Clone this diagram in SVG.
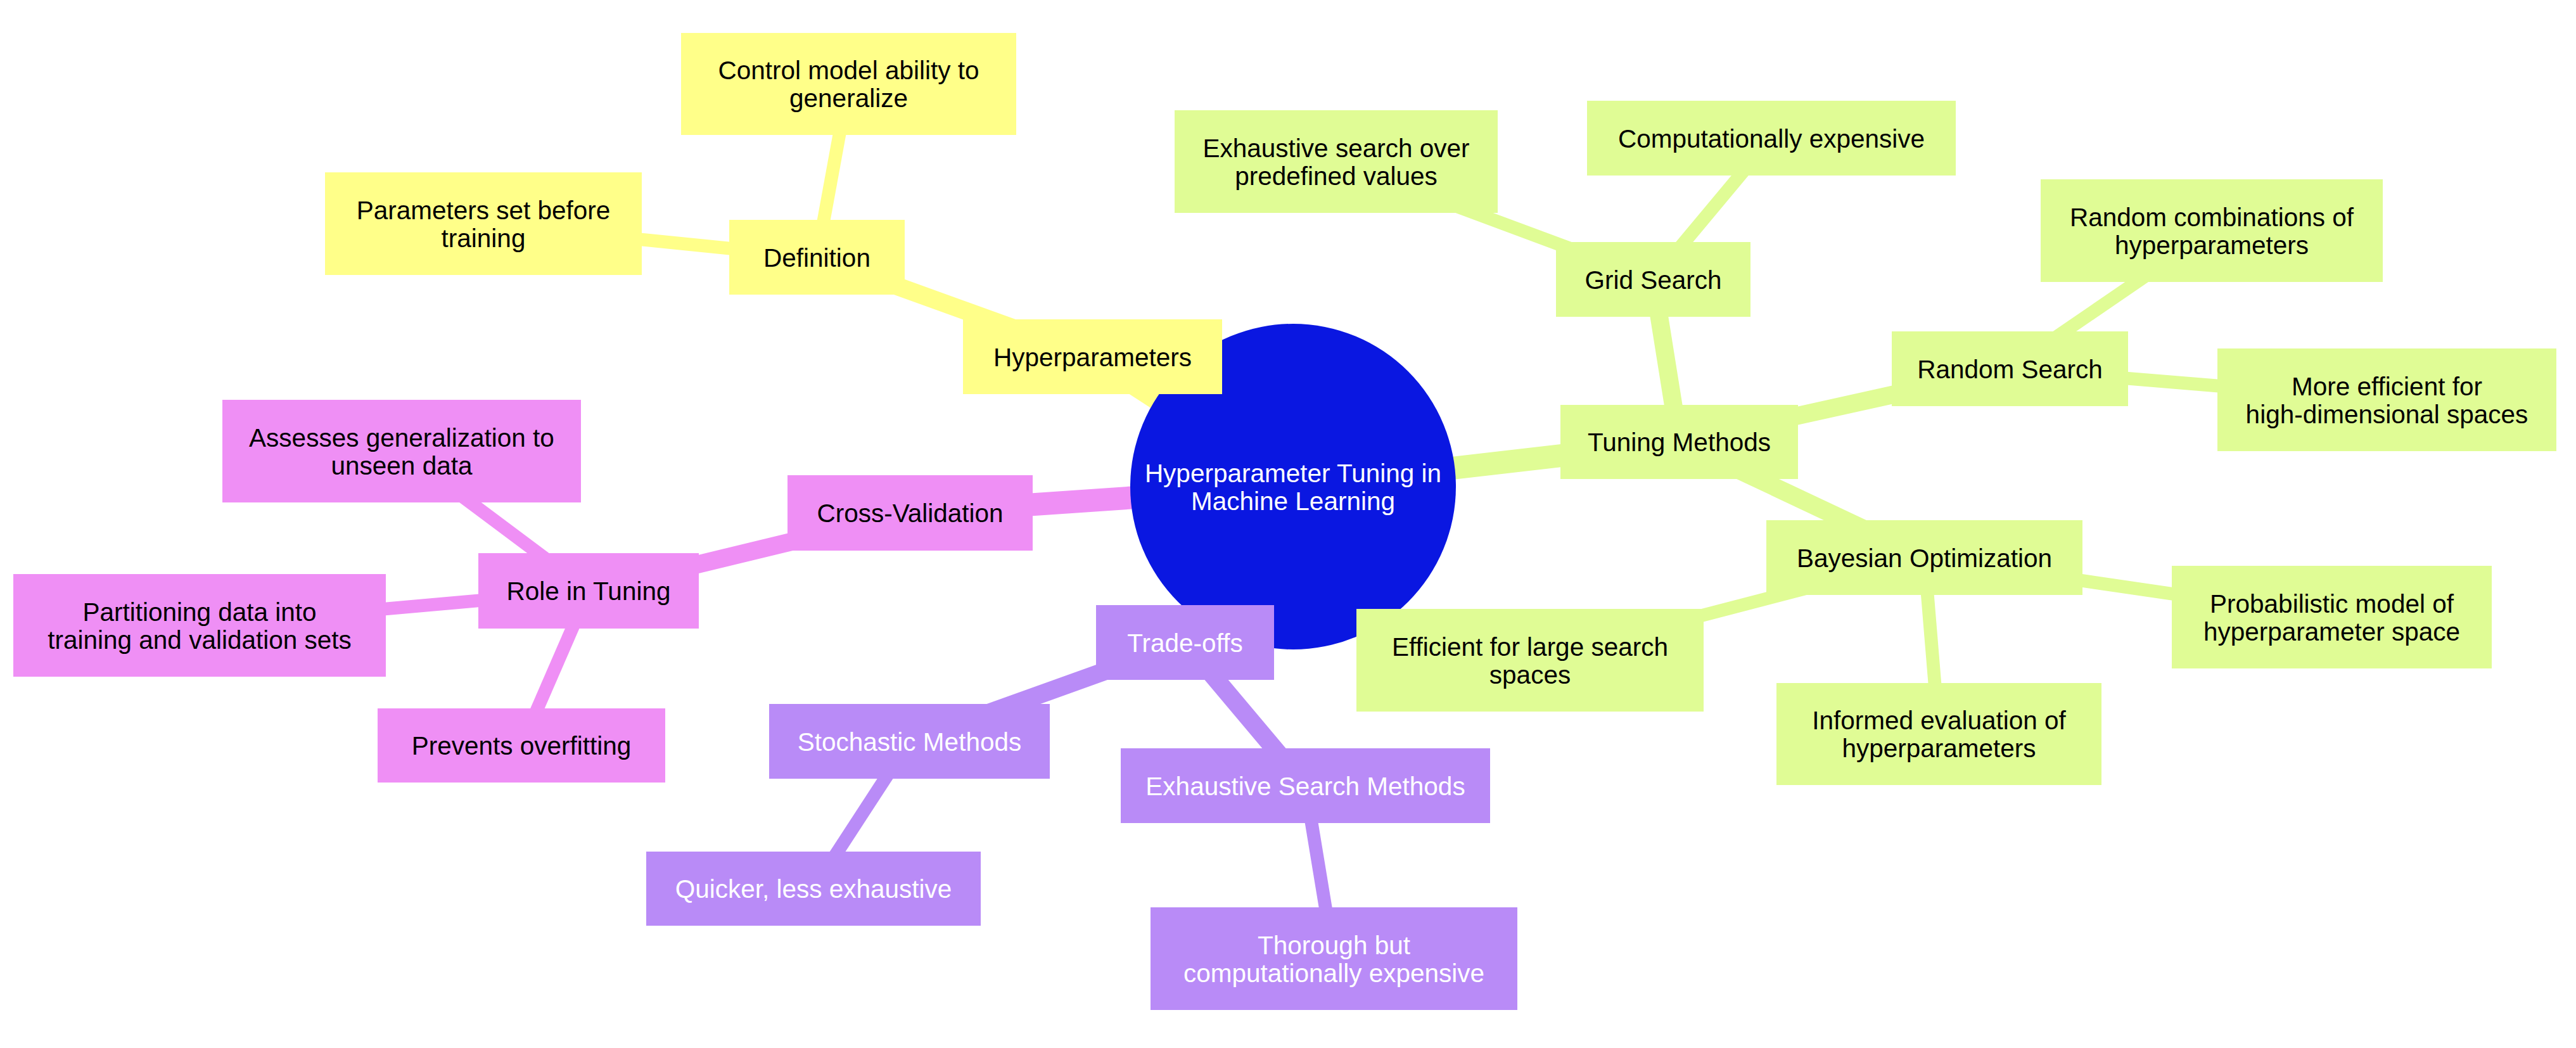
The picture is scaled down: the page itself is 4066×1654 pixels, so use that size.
<svg xmlns="http://www.w3.org/2000/svg" width="4066" height="1654" viewBox="0 0 4066 1654">
<style>
text{font-family:"Liberation Sans",Arial,sans-serif;font-size:40.5px;text-anchor:middle}
.e{fill:none;stroke-linecap:butt}
.d1{stroke-width:36}
.d2{stroke-width:28.5}
.d3{stroke-width:20.7}
.sy{stroke:#ffff89}
.sg{stroke:#e0fc95}
.sp{stroke:#ef8ff5}
.su{stroke:#b98bf7}
.fy{fill:#ffff89}
.fg{fill:#e0fc95}
.fp{fill:#ef8ff5}
.fu{fill:#b98bf7}
.tb{fill:#000000}
.tw{fill:#ffffff}
</style>
<rect x="0" y="0" width="4066" height="1654" fill="#ffffff"/>
<g id="connectors">
<line class="e d1 sy" x1="2041" y1="768" x2="1724.5" y2="563"/>
<line class="e d1 sg" x1="2041" y1="768" x2="2650.5" y2="697.5"/>
<line class="e d1 sp" x1="2041" y1="768" x2="1436.5" y2="809.5"/>
<line class="e d1 su" x1="2041" y1="768" x2="1870.5" y2="1014"/>
<line class="e d2 sy" x1="1724.5" y1="563" x2="1289.5" y2="406"/>
<line class="e d3 sy" x1="1289.5" y1="406" x2="763" y2="353"/>
<line class="e d3 sy" x1="1289.5" y1="406" x2="1339.5" y2="132.5"/>
<line class="e d2 sg" x1="2650.5" y1="697.5" x2="2609.5" y2="441"/>
<line class="e d2 sg" x1="2650.5" y1="697.5" x2="3172.5" y2="582"/>
<line class="e d2 sg" x1="2650.5" y1="697.5" x2="3037.5" y2="880"/>
<line class="e d3 sg" x1="2609.5" y1="441" x2="2109" y2="255"/>
<line class="e d3 sg" x1="2609.5" y1="441" x2="2796" y2="217.5"/>
<line class="e d3 sg" x1="3172.5" y1="582" x2="3491" y2="364"/>
<line class="e d3 sg" x1="3172.5" y1="582" x2="3767.5" y2="631"/>
<line class="e d3 sg" x1="3037.5" y1="880" x2="2415" y2="1042"/>
<line class="e d3 sg" x1="3037.5" y1="880" x2="3680.5" y2="974"/>
<line class="e d3 sg" x1="3037.5" y1="880" x2="3060.5" y2="1158.5"/>
<line class="e d2 sp" x1="1436.5" y1="809.5" x2="929" y2="932.5"/>
<line class="e d3 sp" x1="929" y1="932.5" x2="634" y2="712"/>
<line class="e d3 sp" x1="929" y1="932.5" x2="315" y2="987"/>
<line class="e d3 sp" x1="929" y1="932.5" x2="823" y2="1176.5"/>
<line class="e d2 su" x1="1870.5" y1="1014" x2="1435.5" y2="1170"/>
<line class="e d2 su" x1="1870.5" y1="1014" x2="2060.5" y2="1240"/>
<line class="e d3 su" x1="1435.5" y1="1170" x2="1284" y2="1402.5"/>
<line class="e d3 su" x1="2060.5" y1="1240" x2="2105.5" y2="1513"/>
</g>
<g id="root">
<circle cx="2041" cy="768" r="257" fill="#0a17e1"/>
<text class="tw" x="2041" y="760.5">Hyperparameter Tuning in</text>
<text class="tw" x="2041" y="804.5">Machine Learning</text>
</g>
<g id="hyperparameters">
<rect class="fy" x="1520" y="504" width="409" height="118"/>
<text class="tb" x="1724.5" y="577.5">Hyperparameters</text>
</g>
<g id="definition">
<rect class="fy" x="1151" y="347" width="277" height="118"/>
<text class="tb" x="1289.5" y="420.5">Definition</text>
</g>
<g id="params-set">
<rect class="fy" x="513" y="272" width="500" height="162"/>
<text class="tb" x="763" y="345.5">Parameters set before</text>
<text class="tb" x="763" y="389.5">training</text>
</g>
<g id="control-model">
<rect class="fy" x="1075" y="52" width="529" height="161"/>
<text class="tb" x="1339.5" y="125">Control model ability to</text>
<text class="tb" x="1339.5" y="169">generalize</text>
</g>
<g id="tuning-methods">
<rect class="fg" x="2463" y="639" width="375" height="117"/>
<text class="tb" x="2650.5" y="712">Tuning Methods</text>
</g>
<g id="grid-search">
<rect class="fg" x="2456" y="382" width="307" height="118"/>
<text class="tb" x="2609.5" y="455.5">Grid Search</text>
</g>
<g id="exhaustive-predefined">
<rect class="fg" x="1854" y="174" width="510" height="162"/>
<text class="tb" x="2109" y="247.5">Exhaustive search over</text>
<text class="tb" x="2109" y="291.5">predefined values</text>
</g>
<g id="computationally-expensive">
<rect class="fg" x="2505" y="159" width="582" height="118"/>
<text class="tb" x="2796" y="232.5">Computationally expensive</text>
</g>
<g id="random-search">
<rect class="fg" x="2986" y="523" width="373" height="118"/>
<text class="tb" x="3172.5" y="596.5">Random Search</text>
</g>
<g id="random-combinations">
<rect class="fg" x="3221" y="283" width="540" height="162"/>
<text class="tb" x="3491" y="356.5">Random combinations of</text>
<text class="tb" x="3491" y="400.5">hyperparameters</text>
</g>
<g id="more-efficient">
<rect class="fg" x="3500" y="550" width="535" height="162"/>
<text class="tb" x="3767.5" y="623.5">More efficient for</text>
<text class="tb" x="3767.5" y="667.5">high-dimensional spaces</text>
</g>
<g id="bayesian">
<rect class="fg" x="2788" y="821" width="499" height="118"/>
<text class="tb" x="3037.5" y="894.5">Bayesian Optimization</text>
</g>
<g id="efficient-large">
<rect class="fg" x="2141" y="961" width="548" height="162"/>
<text class="tb" x="2415" y="1034.5">Efficient for large search</text>
<text class="tb" x="2415" y="1078.5">spaces</text>
</g>
<g id="probabilistic">
<rect class="fg" x="3428" y="893" width="505" height="162"/>
<text class="tb" x="3680.5" y="966.5">Probabilistic model of</text>
<text class="tb" x="3680.5" y="1010.5">hyperparameter space</text>
</g>
<g id="informed">
<rect class="fg" x="2804" y="1078" width="513" height="161"/>
<text class="tb" x="3060.5" y="1151">Informed evaluation of</text>
<text class="tb" x="3060.5" y="1195">hyperparameters</text>
</g>
<g id="cross-validation">
<rect class="fp" x="1243" y="750" width="387" height="119"/>
<text class="tb" x="1436.5" y="824">Cross-Validation</text>
</g>
<g id="role-in-tuning">
<rect class="fp" x="755" y="873" width="348" height="119"/>
<text class="tb" x="929" y="947">Role in Tuning</text>
</g>
<g id="assesses">
<rect class="fp" x="351" y="631" width="566" height="162"/>
<text class="tb" x="634" y="704.5">Assesses generalization to</text>
<text class="tb" x="634" y="748.5">unseen data</text>
</g>
<g id="partitioning">
<rect class="fp" x="21" y="906" width="588" height="162"/>
<text class="tb" x="315" y="979.5">Partitioning data into</text>
<text class="tb" x="315" y="1023.5">training and validation sets</text>
</g>
<g id="prevents">
<rect class="fp" x="596" y="1118" width="454" height="117"/>
<text class="tb" x="823" y="1191">Prevents overfitting</text>
</g>
<g id="trade-offs">
<rect class="fu" x="1730" y="955" width="281" height="118"/>
<text class="tw" x="1870.5" y="1028.5">Trade-offs</text>
</g>
<g id="stochastic">
<rect class="fu" x="1214" y="1111" width="443" height="118"/>
<text class="tw" x="1435.5" y="1184.5">Stochastic Methods</text>
</g>
<g id="quicker">
<rect class="fu" x="1020" y="1344" width="528" height="117"/>
<text class="tw" x="1284" y="1417">Quicker, less exhaustive</text>
</g>
<g id="exhaustive-methods">
<rect class="fu" x="1769" y="1181" width="583" height="118"/>
<text class="tw" x="2060.5" y="1254.5">Exhaustive Search Methods</text>
</g>
<g id="thorough">
<rect class="fu" x="1816" y="1432" width="579" height="162"/>
<text class="tw" x="2105.5" y="1505.5">Thorough but</text>
<text class="tw" x="2105.5" y="1549.5">computationally expensive</text>
</g>
</svg>
